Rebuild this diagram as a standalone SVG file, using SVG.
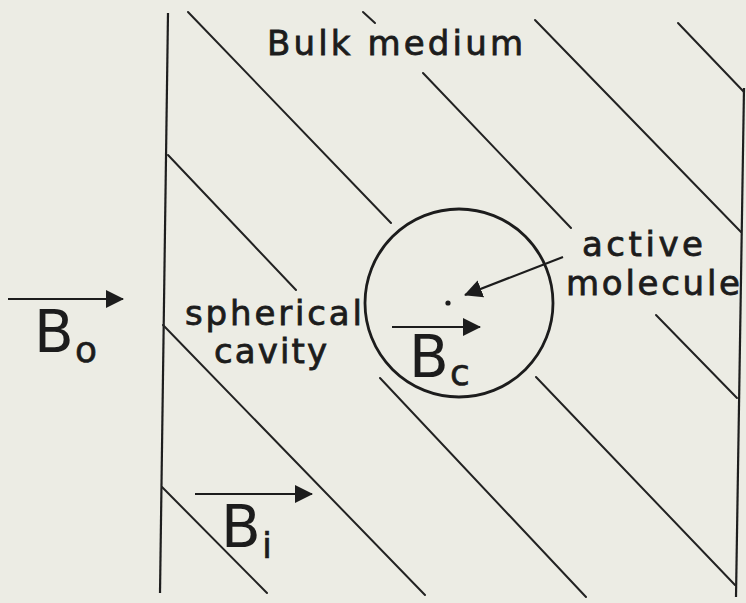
<svg xmlns="http://www.w3.org/2000/svg" width="746" height="603" viewBox="0 0 746 603">
  <style>
    .ln { stroke: #222; stroke-width: 2; fill: none; stroke-linecap: round; }
    .wall { stroke: #1e1e1e; stroke-width: 2.2; fill: none; }
    .lbl { font-family: "DejaVu Sans", "Liberation Sans", sans-serif; fill: #1c1c1c; stroke: #1c1c1c; stroke-width: 0.8; font-size: 34px; }
    .big { font-family: "DejaVu Sans", "Liberation Sans", sans-serif; fill: #1c1c1c; font-size: 58px; }
    .sub { font-family: "DejaVu Sans", "Liberation Sans", sans-serif; fill: #1c1c1c; stroke: #1c1c1c; stroke-width: 0.6; font-size: 36px; }
    .arr { stroke: #1c1c1c; stroke-width: 2.2; fill: none; marker-end: url(#head); }
  </style>
  <defs>
    <marker id="head" markerUnits="userSpaceOnUse" markerWidth="18" markerHeight="20" viewBox="0 0 18 20" refX="17" refY="10" orient="auto">
      <path d="M0,1 L18,10 L0,19 Z" fill="#1c1c1c"/>
    </marker>
  </defs>
  <rect x="0" y="0" width="746" height="603" fill="#ecece4"/>

  <g id="walls">
    <line class="wall" x1="168" y1="13" x2="160" y2="593"/>
    <line class="wall" x1="744" y1="88" x2="736" y2="597"/>
  </g>

  <g id="hatching">
    <line class="ln" x1="188" y1="12" x2="391" y2="223"/>
    <line class="ln" x1="168" y1="155" x2="296" y2="290"/>
    <line class="ln" x1="163" y1="325" x2="425" y2="595"/>
    <line class="ln" x1="162" y1="487" x2="267" y2="593"/>
    <line class="ln" x1="363" y1="12" x2="375" y2="23"/>
    <line class="ln" x1="423" y1="73" x2="571" y2="228"/>
    <line class="ln" x1="535" y1="20" x2="741" y2="232"/>
    <line class="ln" x1="678" y1="23" x2="744" y2="92"/>
    <line class="ln" x1="656" y1="315" x2="737" y2="398"/>
    <line class="ln" x1="536" y1="377" x2="735" y2="585"/>
    <line class="ln" x1="380" y1="378" x2="586" y2="597"/>
  </g>

  <g id="cavity">
    <circle cx="459" cy="303" r="94" fill="none" stroke="#1c1c1c" stroke-width="2.8"/>
    <circle cx="448" cy="303" r="2.6" fill="#1c1c1c"/>
  </g>

  <g id="label-bulk">
    <text class="lbl" x="267" y="55" font-size="35" textLength="256" lengthAdjust="spacing">Bulk medium</text>
  </g>
  <g id="label-cavity">
    <text class="lbl" x="185" y="325" font-size="29" textLength="177" lengthAdjust="spacing">spherical</text>
    <text class="lbl" x="214" y="363" font-size="29" textLength="113" lengthAdjust="spacing">cavity</text>
  </g>
  <g id="label-molecule">
    <text class="lbl" x="582" y="256" textLength="121" lengthAdjust="spacing">active</text>
    <text class="lbl" x="566" y="295" textLength="174" lengthAdjust="spacing">molecule</text>
  </g>
  <g id="field-Bo">
    <text class="big" x="34" y="352">B</text>
    <text class="sub" x="75" y="362">o</text>
  </g>
  <g id="field-Bc">
    <text class="big" x="409" y="377">B</text>
    <text class="sub" x="450" y="385">c</text>
  </g>
  <g id="field-Bi">
    <text class="big" x="221" y="547">B</text>
    <text class="sub" x="262" y="558" font-size="30">i</text>
  </g>

  <g id="connectors">
    <line class="arr" x1="8" y1="299" x2="123" y2="299"/>
    <line class="arr" x1="392" y1="327" x2="480" y2="327"/>
    <line class="arr" x1="195" y1="494" x2="312" y2="494"/>
    <line class="arr" x1="563" y1="257" x2="465" y2="295"/>
  </g>
</svg>
